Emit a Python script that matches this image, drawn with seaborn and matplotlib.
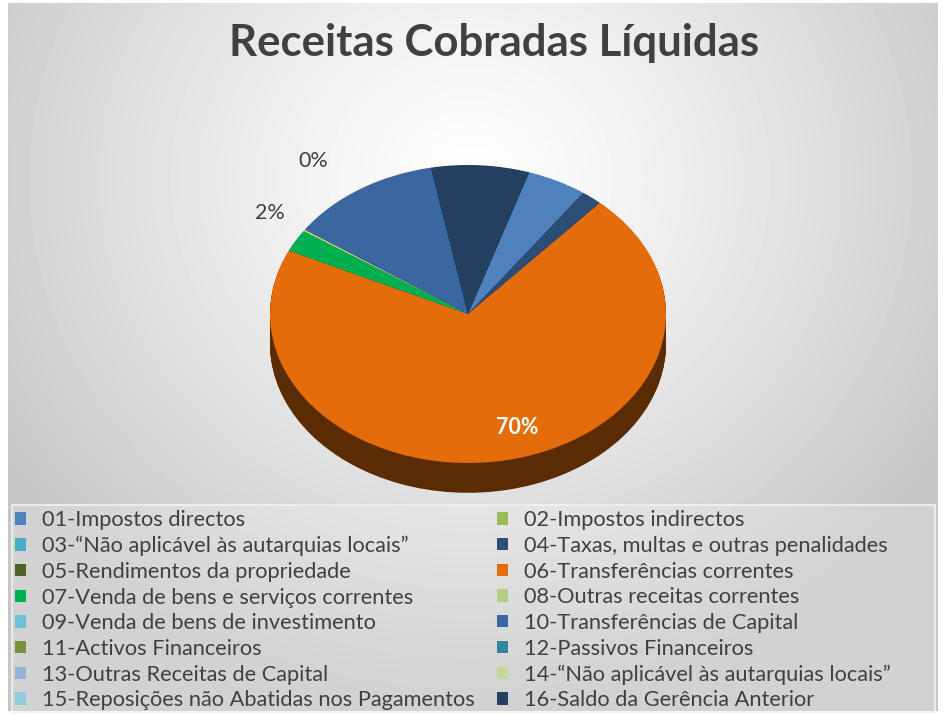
import numpy as np
import matplotlib
matplotlib.use("Agg")
import matplotlib.pyplot as plt
import matplotlib.colors as mcolors
from matplotlib.patches import Patch, Rectangle
import seaborn as sns

sns.set_theme(style="white")
plt.rcParams['font.family'] = ['Lato', 'DejaVu Sans']

# --- data ---
categories = [
    "01-Impostos directos",
    "02-Impostos indirectos",
    "03-\u201cNão aplicável às autarquias locais\u201d",
    "04-Taxas, multas e outras penalidades",
    "05-Rendimentos da propriedade",
    "06-Transferências correntes",
    "07-Venda de bens e serviços correntes",
    "08-Outras receitas correntes",
    "09-Venda de bens de investimento",
    "10-Transferências de Capital",
    "11-Activos Financeiros",
    "12-Passivos Financeiros",
    "13-Outras Receitas de Capital",
    "14-\u201cNão aplicável às autarquias locais\u201d",
    "15-Reposições não Abatidas nos Pagamentos",
    "16-Saldo da Gerência Anterior",
]
shares = [4.9, 0, 0, 1.7, 0, 70.4, 2.4, 0.2, 0, 12.4, 0, 0, 0, 0, 0, 8.0]
colors = ["#4F81BD", "#9BBB59", "#4BACC6", "#2C4D75", "#4F6228", "#E46C0A",
          "#00B050", "#B3CF86", "#6CC0D8", "#3A67A0", "#77933C", "#31859C",
          "#95B3D7", "#C3D69B", "#93CDDD", "#243F60"]

# which slices show a percentage label, and where (axes data units)
label_idx = [0, 5, 6, 7]
label_pos = {0: (0.43, 1.11), 5: (0.25, -0.76), 6: (-1.0, 0.68), 7: (-0.78, 1.03)}
label_col = {0: "white", 5: "white", 6: "#404040", 7: "#404040"}

W, H = 944, 715
fig = plt.figure(figsize=(W / 100, H / 100), dpi=100, facecolor="white")

# background: radial grey gradient inside a framed chart area
bx0, by0, bw, bh = 8, 4, 930, 708
bg = fig.add_axes([bx0 / W, by0 / H, bw / W, bh / H])
yy, xx = np.mgrid[0:bh, 0:bw]
r = np.sqrt(((xx - 462) / 560.0) ** 2 + ((yy - 175) / 520.0) ** 2)
grey = 255 - 57 * np.clip(r, 0, 1) ** 1.2
bg.imshow(grey, cmap="gray", vmin=0, vmax=255, aspect="auto")
bg.set_axis_off()

# pie axes: x unit = 198 px, y unit = 149 px (tilted ellipse)
cx, cy, rx, ry = 468, 314, 198, 149
xl, yl_lo, yl_hi = 1.3, -1.4, 1.3
left = (cx - xl * rx) / W
bottom = (H - (cy - yl_lo * ry)) / H
ax = fig.add_axes([left, bottom, 2 * xl * rx / W, (yl_hi - yl_lo) * ry / H])
ax.patch.set_alpha(0)

depth = 0.2
side_cols = [tuple(np.array(mcolors.to_rgb(c)) * 0.40) for c in colors]
for d in np.linspace(depth, 0.005, 40):
    ax.pie(shares, colors=side_cols, startangle=72, counterclock=False,
           center=(0, -d), radius=1, wedgeprops=dict(linewidth=0))
ax.pie(shares, colors=colors, startangle=72, counterclock=False,
       center=(0, 0), radius=1, wedgeprops=dict(linewidth=0))
ax.set_aspect("auto")
ax.set_xlim(-xl, xl)
ax.set_ylim(yl_lo, yl_hi)
ax.set_axis_off()

total = sum(shares)
for i in label_idx:
    pct = f"{shares[i] / total * 100:.0f}%"
    x, y = label_pos[i]
    ax.text(x, y, pct, ha="center", va="center", fontsize=15.5,
            color=label_col[i], fontweight="bold" if i == 5 else "normal",
            alpha=0.55 if i == 0 else 1.0, clip_on=False)

fig.text(494 / W, 1 - 43 / H, "Receitas Cobradas Líquidas", ha="center",
         va="center", fontsize=31.5, fontweight="bold", color="#404040")

# legend box
fig.add_artist(Rectangle((12 / W, 3 / H), 923 / W, 207 / H,
                         transform=fig.transFigure, facecolor="white",
                         alpha=0.22, edgecolor="none"))
fig.add_artist(Rectangle((12 / W, 3 / H), 923 / W, 207 / H,
                         transform=fig.transFigure, facecolor="none",
                         edgecolor="#f2f2f2", linewidth=1.2))

# legend: two columns, read row-wise (01 02 / 03 04 ...)
handles = [Patch(facecolor=c, edgecolor="none") for c in colors]
order = list(range(0, 16, 2)) + list(range(1, 16, 2))
leg = fig.legend([handles[i] for i in order], [categories[i] for i in order],
                 ncol=2, loc="upper left",
                 bbox_to_anchor=(13 / W, 1 - 508 / H),
                 fontsize=15.7, handlelength=0.5, handleheight=0.5,
                 handletextpad=0.75, labelspacing=0.26, borderaxespad=0,
                 borderpad=0.1, columnspacing=1.0, frameon=False,
                 labelcolor="#404040")

fig.savefig("out.png", dpi=100, facecolor="white")
